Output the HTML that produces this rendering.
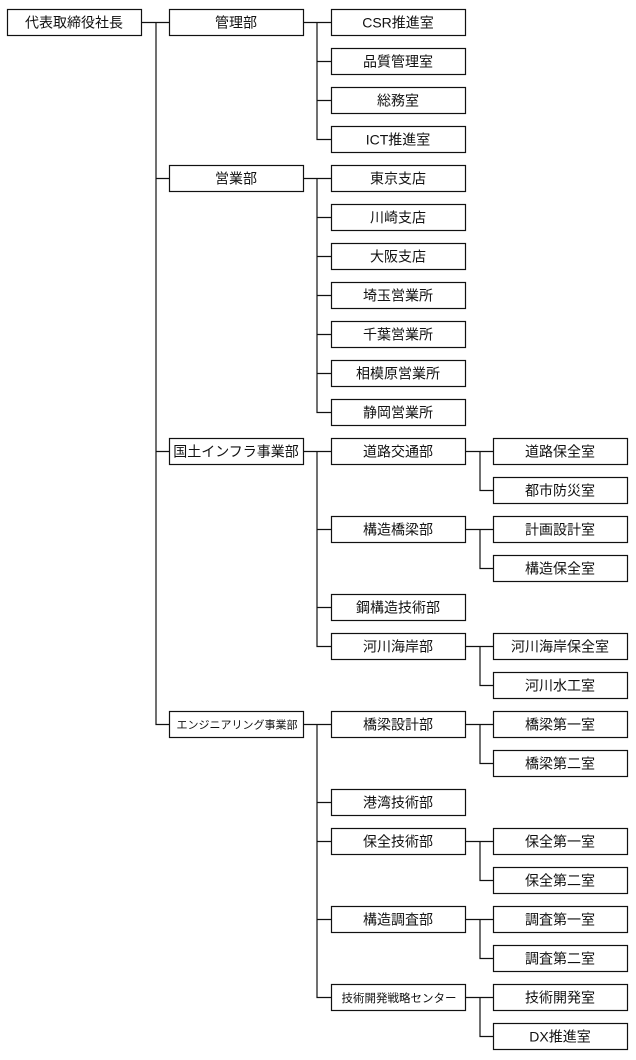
<!DOCTYPE html>
<html><head><meta charset="utf-8"><style>
html,body{margin:0;padding:0;background:#fff;width:636px;height:1060px;overflow:hidden}
text{font-family:"Liberation Sans","Noto Sans CJK JP",sans-serif;fill:#111}
</style></head><body>
<svg width="636" height="1060" viewBox="0 0 636 1060" xmlns="http://www.w3.org/2000/svg">
<g stroke="#111" stroke-width="1.2" fill="none">
<path d="M142 22.5H169M156 22.5V724.5H169M156 178.5H169M156 451.5H169"/>
<path d="M303 22.5H331M317 22.5V139.5H331M317 61.5H331M317 100.5H331"/>
<path d="M303 178.5H331M317 178.5V412.5H331M317 217.5H331M317 256.5H331M317 295.5H331M317 334.5H331M317 373.5H331"/>
<path d="M303 451.5H331M317 451.5V646.5H331M317 529.5H331M317 607.5H331"/>
<path d="M303 724.5H331M317 724.5V997.5H331M317 802.5H331M317 841.5H331M317 919.5H331"/>
<path d="M465 451.5H493M480 451.5V490.5H493"/>
<path d="M465 529.5H493M480 529.5V568.5H493"/>
<path d="M465 646.5H493M480 646.5V685.5H493"/>
<path d="M465 724.5H493M480 724.5V763.5H493"/>
<path d="M465 841.5H493M480 841.5V880.5H493"/>
<path d="M465 919.5H493M480 919.5V958.5H493"/>
<path d="M465 997.5H493M480 997.5V1036.5H493"/>
</g>
<g stroke="#111" stroke-width="1.2" fill="#fff">
<rect x="7.5" y="9.5" width="134" height="26"/>
<rect x="169.5" y="9.5" width="134" height="26"/>
<rect x="169.5" y="165.5" width="134" height="26"/>
<rect x="169.5" y="438.5" width="134" height="26"/>
<rect x="169.5" y="711.5" width="134" height="26"/>
<rect x="331.5" y="9.5" width="134" height="26"/>
<rect x="331.5" y="48.5" width="134" height="26"/>
<rect x="331.5" y="87.5" width="134" height="26"/>
<rect x="331.5" y="126.5" width="134" height="26"/>
<rect x="331.5" y="165.5" width="134" height="26"/>
<rect x="331.5" y="204.5" width="134" height="26"/>
<rect x="331.5" y="243.5" width="134" height="26"/>
<rect x="331.5" y="282.5" width="134" height="26"/>
<rect x="331.5" y="321.5" width="134" height="26"/>
<rect x="331.5" y="360.5" width="134" height="26"/>
<rect x="331.5" y="399.5" width="134" height="26"/>
<rect x="331.5" y="438.5" width="134" height="26"/>
<rect x="331.5" y="516.5" width="134" height="26"/>
<rect x="331.5" y="594.5" width="134" height="26"/>
<rect x="331.5" y="633.5" width="134" height="26"/>
<rect x="331.5" y="711.5" width="134" height="26"/>
<rect x="331.5" y="789.5" width="134" height="26"/>
<rect x="331.5" y="828.5" width="134" height="26"/>
<rect x="331.5" y="906.5" width="134" height="26"/>
<rect x="331.5" y="984.5" width="134" height="26"/>
<rect x="493.5" y="438.5" width="134" height="26"/>
<rect x="493.5" y="477.5" width="134" height="26"/>
<rect x="493.5" y="516.5" width="134" height="26"/>
<rect x="493.5" y="555.5" width="134" height="26"/>
<rect x="493.5" y="633.5" width="134" height="26"/>
<rect x="493.5" y="672.5" width="134" height="26"/>
<rect x="493.5" y="711.5" width="134" height="26"/>
<rect x="493.5" y="750.5" width="134" height="26"/>
<rect x="493.5" y="828.5" width="134" height="26"/>
<rect x="493.5" y="867.5" width="134" height="26"/>
<rect x="493.5" y="906.5" width="134" height="26"/>
<rect x="493.5" y="945.5" width="134" height="26"/>
<rect x="493.5" y="984.5" width="134" height="26"/>
<rect x="493.5" y="1023.5" width="134" height="26"/>
</g>
<g font-size="14" text-anchor="middle">
<text x="74" y="27.5">代表取締役社長</text>
<text x="236" y="27.5">管理部</text>
<text x="236" y="183.5">営業部</text>
<text x="236" y="456.5">国土インフラ事業部</text>
<text x="237" y="728.5" font-size="11">エンジニアリング事業部</text>
<text x="398" y="27.5">CSR推進室</text>
<text x="398" y="66.5">品質管理室</text>
<text x="398" y="105.5">総務室</text>
<text x="398" y="144.5">ICT推進室</text>
<text x="398" y="183.5">東京支店</text>
<text x="398" y="222.5">川崎支店</text>
<text x="398" y="261.5">大阪支店</text>
<text x="398" y="300.5">埼玉営業所</text>
<text x="398" y="339.5">千葉営業所</text>
<text x="398" y="378.5">相模原営業所</text>
<text x="398" y="417.5">静岡営業所</text>
<text x="398" y="456.5">道路交通部</text>
<text x="398" y="534.5">構造橋梁部</text>
<text x="398" y="612.5">鋼構造技術部</text>
<text x="398" y="651.5">河川海岸部</text>
<text x="398" y="729.5">橋梁設計部</text>
<text x="398" y="807.5">港湾技術部</text>
<text x="398" y="846.5">保全技術部</text>
<text x="398" y="924.5">構造調査部</text>
<text x="399" y="1002" font-size="11.5">技術開発戦略センター</text>
<text x="560" y="456.5">道路保全室</text>
<text x="560" y="495.5">都市防災室</text>
<text x="560" y="534.5">計画設計室</text>
<text x="560" y="573.5">構造保全室</text>
<text x="560" y="651.5">河川海岸保全室</text>
<text x="560" y="690.5">河川水工室</text>
<text x="560" y="729.5">橋梁第一室</text>
<text x="560" y="768.5">橋梁第二室</text>
<text x="560" y="846.5">保全第一室</text>
<text x="560" y="885.5">保全第二室</text>
<text x="560" y="924.5">調査第一室</text>
<text x="560" y="963.5">調査第二室</text>
<text x="560" y="1002.5">技術開発室</text>
<text x="560" y="1041.5">DX推進室</text>
</g>
</svg>
</body></html>
